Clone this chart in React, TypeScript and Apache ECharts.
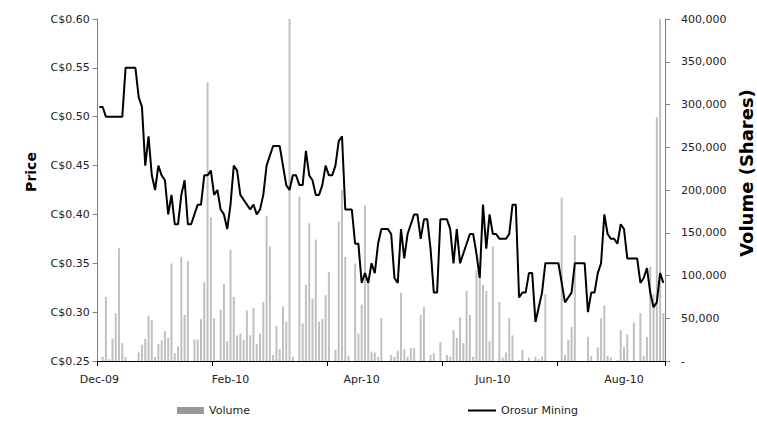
import React, { useEffect, useRef } from "react";
import * as echarts from "echarts";

// Axis tick labels (category axis shows one label every 40 trading days)
const xTickLabels = ["Dec-09", "Feb-10", "Apr-10", "Jun-10", "Aug-10"];
const LABEL_EVERY = 40;
const TICK_EVERY = 35;

// Orosur Mining closing price (C$), one value per trading day
const price = [
  0.51, 0.51, 0.5, 0.5, 0.5, 0.5, 0.5, 0.5, 0.55, 0.55,
  0.55, 0.55, 0.52, 0.51, 0.45, 0.48, 0.44, 0.425, 0.45, 0.44,
  0.435, 0.4, 0.42, 0.39, 0.39, 0.42, 0.435, 0.39, 0.39, 0.4,
  0.41, 0.41, 0.44, 0.44, 0.445, 0.42, 0.425, 0.405, 0.4, 0.385,
  0.41, 0.45, 0.445, 0.42, 0.415, 0.41, 0.405, 0.41, 0.4, 0.405,
  0.42, 0.45, 0.46, 0.47, 0.47, 0.47, 0.45, 0.43, 0.425, 0.44,
  0.44, 0.43, 0.43, 0.465, 0.44, 0.435, 0.42, 0.42, 0.43, 0.45,
  0.44, 0.44, 0.45, 0.475, 0.48, 0.405, 0.405, 0.405, 0.37, 0.37,
  0.33, 0.34, 0.33, 0.35, 0.34, 0.37, 0.385, 0.385, 0.385, 0.38,
  0.335, 0.33, 0.385, 0.355, 0.38, 0.39, 0.4, 0.4, 0.375, 0.395,
  0.395, 0.365, 0.32, 0.32, 0.395, 0.395, 0.395, 0.385, 0.35, 0.385,
  0.35, 0.36, 0.37, 0.38, 0.38, 0.36, 0.335, 0.41, 0.365, 0.4,
  0.38, 0.38, 0.375, 0.375, 0.375, 0.38, 0.41, 0.41, 0.315, 0.32,
  0.32, 0.34, 0.34, 0.29, 0.305, 0.32, 0.35, 0.35, 0.35, 0.35,
  0.35, 0.33, 0.31, 0.315, 0.32, 0.35, 0.35, 0.35, 0.35, 0.3,
  0.32, 0.32, 0.34, 0.35, 0.4, 0.38, 0.375, 0.375, 0.37, 0.39,
  0.385, 0.355, 0.355, 0.355, 0.355, 0.33, 0.335, 0.345, 0.32, 0.305,
  0.31, 0.34, 0.33,
];

// Daily traded volume (shares)
const volume = [
  0, 5000, 75000, 2000, 26000, 56000, 132000, 21000, 5000, 0,
  0, 0, 10000, 19000, 26000, 53000, 48000, 5000, 20000, 24000,
  35000, 27000, 114000, 9000, 17000, 122000, 54000, 117000, 0, 25000,
  25000, 49000, 92000, 326000, 168000, 50000, 1000, 60000, 90000, 23000,
  130000, 75000, 30000, 32000, 25000, 59000, 30000, 62000, 20000, 32000,
  69000, 170000, 134000, 7000, 41000, 14000, 64000, 46000, 400000, 5000,
  0, 192000, 44000, 89000, 161000, 73000, 142000, 46000, 49000, 77000,
  104000, 0, 13000, 163000, 200000, 122000, 6000, 0, 114000, 32000,
  66000, 182000, 97000, 11000, 10000, 5000, 50000, 0, 0, 7000,
  5000, 12000, 80000, 14000, 5000, 15000, 15000, 0, 54000, 63000,
  0, 7000, 9000, 0, 22000, 0, 7000, 5000, 36000, 27000,
  51000, 21000, 82000, 54000, 5000, 106000, 101000, 89000, 82000, 23000,
  134000, 0, 69000, 4000, 10000, 50000, 30000, 0, 1000, 13000,
  0, 4000, 0, 5000, 2000, 5000, 78000, 0, 0, 0,
  0, 191000, 7000, 25000, 40000, 147000, 0, 0, 0, 28000,
  6000, 0, 16000, 50000, 65000, 6000, 4000, 0, 1000, 36000,
  16000, 31000, 0, 45000, 0, 56000, 6000, 28000, 110000, 78000,
  285000, 400000, 56000,
];

const categories = price.map((_, i) => String(i));

const FONT = "'DejaVu Sans', sans-serif";

export default function App() {
  const ref = useRef<HTMLDivElement>(null);

  useEffect(() => {
    document.body.style.margin = "0";
    const chart = echarts.init(ref.current as HTMLDivElement, null, { renderer: "svg" });
    chart.setOption({
      animation: false,
      backgroundColor: "#ffffff",
      grid: { left: 97.7, right: 92, top: 19, bottom: 60 },
      legend: [
        {
          data: [{ name: "Volume", itemStyle: { color: "#999999" } }],
          left: 177,
          top: 405,
          padding: 0,
          icon: "rect",
          itemWidth: 27,
          itemHeight: 7,
          textStyle: { fontFamily: FONT, fontSize: 11, color: "#222" },
        },
        {
          data: ["Orosur Mining"],
          left: 468,
          top: 405,
          padding: 0,
          icon: "rect",
          itemWidth: 28,
          itemHeight: 2,
          textStyle: { fontFamily: FONT, fontSize: 11, color: "#222" },
        },
      ],
      xAxis: {
        type: "category",
        data: categories,
        boundaryGap: true,
        axisLine: { show: true, lineStyle: { color: "#000", width: 1 } },
        axisTick: { show: true, interval: TICK_EVERY - 1, length: 5, lineStyle: { color: "#000" } },
        axisLabel: {
          interval: LABEL_EVERY - 1,
          margin: 13,
          fontFamily: FONT,
          fontSize: 11,
          color: "#222",
          formatter: (v: string) => {
            const i = Number(v);
            return i % LABEL_EVERY === 0 ? xTickLabels[i / LABEL_EVERY] ?? "" : "";
          },
        },
        splitLine: { show: false },
      },
      yAxis: [
        {
          type: "value",
          position: "left",
          min: 0.25,
          max: 0.6,
          interval: 0.05,
          axisLine: { show: true, lineStyle: { color: "#808080" } },
          axisTick: { show: true, length: 5, lineStyle: { color: "#808080" } },
          axisLabel: {
            margin: 8,
            fontFamily: FONT,
            fontSize: 11,
            color: "#222",
            formatter: (v: number) => "C$" + v.toFixed(2),
          },
          splitLine: { show: false },
        },
        {
          type: "value",
          position: "right",
          min: 0,
          max: 400000,
          interval: 50000,
          axisLine: { show: true, lineStyle: { color: "#808080" } },
          axisTick: { show: true, length: 5, lineStyle: { color: "#808080" } },
          axisLabel: {
            margin: 16,
            fontFamily: FONT,
            fontSize: 11,
            color: "#222",
            formatter: (v: number) => (v === 0 ? "-" : v.toLocaleString("en-US")),
          },
          splitLine: { show: false },
        },
      ],
      graphic: [
        {
          type: "text",
          x: 31,
          y: 172,
          rotation: Math.PI / 2,
          style: {
            text: "Price",
            fontFamily: FONT,
            fontSize: 14,
            fontWeight: "bold",
            fill: "#000",
            align: "center",
            verticalAlign: "middle",
          },
        },
        {
          type: "text",
          x: 746,
          y: 173,
          rotation: Math.PI / 2,
          style: {
            text: "Volume (Shares)",
            fontFamily: FONT,
            fontSize: 18,
            fontWeight: "bold",
            fill: "#000",
            align: "center",
            verticalAlign: "middle",
          },
        },
      ],
      series: [
        {
          name: "Volume",
          type: "bar",
          yAxisIndex: 1,
          data: volume,
          barWidth: 2,
          itemStyle: { color: "#c0c0c0" },
        },
        {
          name: "Orosur Mining",
          type: "line",
          yAxisIndex: 0,
          data: price,
          symbol: "none",
          lineStyle: { color: "#000", width: 2 },
          itemStyle: { color: "#000" },
        },
      ],
    });
    return () => chart.dispose();
  }, []);

  return <div ref={ref} style={{ width: 757, height: 421 }} />;
}
